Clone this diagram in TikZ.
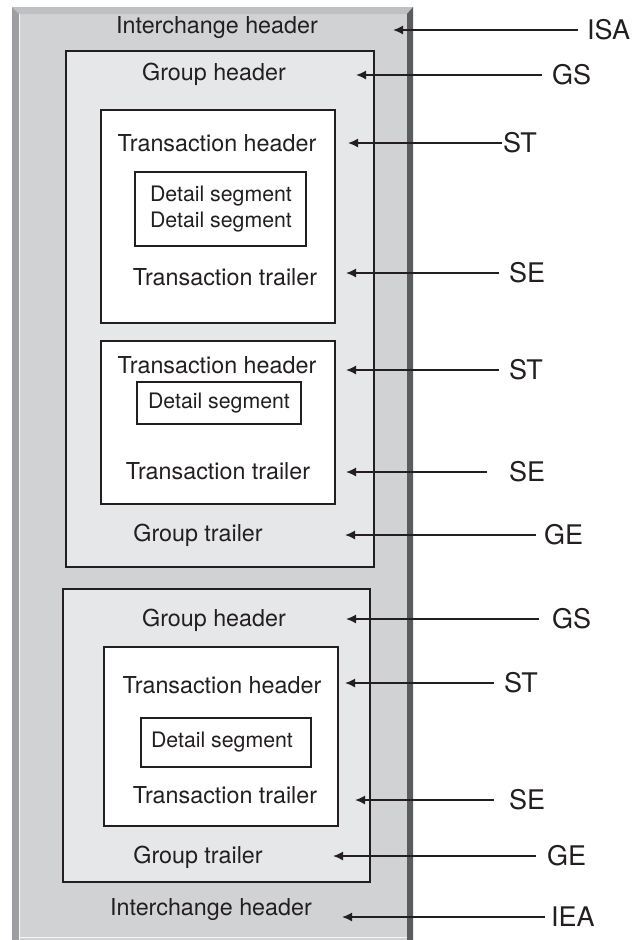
\documentclass[tikz,border=0pt]{standalone}
\usepackage{fontspec}
\setmainfont{TeX Gyre Heros}
\usetikzlibrary{arrows.meta}
\definecolor{panel}{HTML}{D1D2D4}
\definecolor{paneltop}{HTML}{BFC0C2}
\definecolor{panelleft}{HTML}{9D9EA1}
\definecolor{panelright}{HTML}{5B5C5E}
\definecolor{groupfill}{HTML}{E6E7E9}
\definecolor{ink}{HTML}{231F20}
\def\wide{636}
\def\high{940}

\begin{document}
\begin{tikzpicture}[x=1pt, y=-1pt,
    txt/.style={inner sep=0pt, text=ink, font=\fontsize{23.3}{28}\selectfont},
    dtxt/.style={inner sep=0pt, text=ink, align=center, font=\fontsize{21.3}{26.5}\selectfont},
    lab/.style={inner sep=0pt, anchor=west, text=ink, font=\fontsize{27}{32}\selectfont},
    grpbox/.style={draw=ink, line width=1.6pt, fill=groupfill},
    trbox/.style={draw=ink, line width=2pt, fill=white},
    detbox/.style={draw=ink, line width=2pt},
    sig/.style={draw=ink, line width=1.6pt, -{Latex[length=10pt,width=9pt]}}]
\useasboundingbox (0,0) rectangle (\wide,\high);

% bevelled interchange panel
    \fill[panel] (12,7) rectangle (413,940);
    \fill[paneltop] (12,7) -- (413,7) -- (407,14) -- (19,14) -- cycle;
    \fill[panelleft] (12,7) -- (19,14) -- (19,940) -- (12,940) -- cycle;
    \draw[white!80!panel, line width=1pt] (19.5,14) -- (19.5,940);
    \fill[panelright] (407,14) -- (413,7) -- (413,940) -- (407,940) -- cycle;
    \draw[white!80!panel, line width=1.2pt] (19,937.5) -- (407,937.5);

% groups, transactions, details
    \draw[grpbox] (66,51) rectangle (374,567);
    \draw[trbox] (101,110) rectangle (335,323);
    \draw[detbox] (135,172) rectangle (306,246);
    \draw[trbox] (101,341) rectangle (335,504);
    \draw[detbox] (137,382) rectangle (301,424);
    \draw[grpbox] (63,589) rectangle (370,882);
    \draw[trbox] (104,647) rectangle (338,826);
    \draw[detbox] (141,718) rectangle (311,767);

    \node[txt] (ihead) at (217,28) {Interchange header};
    \node[txt] (ghead1) at (214,74) {Group header};
    \node[txt] (thead1) at (217,143) {Transaction header};
    \node[dtxt] (dseg1) at (221,209) {Detail segment\\Detail segment};
    \node[txt] (ttrail1) at (225,277) {Transaction trailer};
    \node[txt] (thead2) at (217,365) {Transaction header};
    \node[dtxt] (dseg2) at (219,403) {Detail segment};
    \node[txt] (ttrail2) at (218,471) {Transaction trailer};
    \node[txt] (gtrail1) at (198,535) {Group trailer};
    \node[txt] (ghead2) at (214,620) {Group header};
    \node[txt] (thead3) at (222,685) {Transaction header};
    \node[dtxt] (dseg3) at (222,742) {Detail segment};
    \node[txt] (ttrail3) at (225,795) {Transaction trailer};
    \node[txt] (gtrail2) at (198,857) {Group trailer};
    \node[txt] (itrail) at (211,910) {Interchange header};

% segment ids
    \foreach \n/\y/\tip/\gap/\tx/\lbl in {isa/30/393/9/587/ISA, gs1/75/356/10/552/GS,
        st1/143/348/1/503/ST, se1/273/346/10/509/SE, st2/370/346/10/509/ST,
        se2/472/346/22/509/SE, ge1/535/345/8/544/GE, gs2/619/346/13/552/GS,
        st3/683/345/10/504/ST, se3/800/355/15/509/SE, ge2/856/333/11/547/GE,
        iea/917/342/6/551/IEA} {
        \node[lab] (\n) at (\tx,\y) {\lbl};
        \coordinate (\n-tip) at (\tip,\y);
        \draw[sig, shorten <=\gap pt] (\n) -- (\n-tip);
    }
\end{tikzpicture}
\end{document}
